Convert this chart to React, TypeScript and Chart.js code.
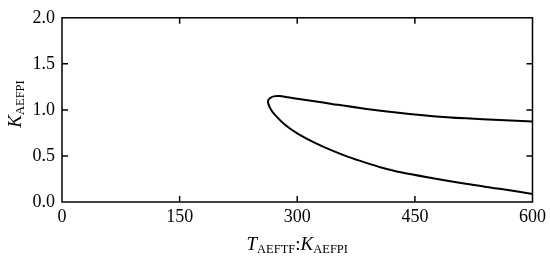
import React, { useEffect, useRef } from "react";
import { Chart, registerables } from "chart.js";

Chart.register(...registerables);

// Curve traced from the upper-right end, around the tip, to the lower-right end
const curveX = [600, 558, 515, 473, 432, 386, 344, 322, 300, 288, 277, 270, 265.5, 262.8, 263.2, 266, 271.3, 284, 301, 322, 344, 365, 386, 407, 432, 473, 515, 558, 600];
const curveY = [0.874, 0.89, 0.908, 0.932, 0.966, 1.013, 1.065, 1.094, 1.12, 1.137, 1.15, 1.147, 1.13, 1.1, 1.065, 1.01, 0.948, 0.842, 0.74, 0.645, 0.56, 0.49, 0.43, 0.375, 0.322, 0.258, 0.197, 0.143, 0.088];

const xTicks = [0, 150, 300, 450, 600];
const yTicks = [0, 0.5, 1.0, 1.5, 2.0];

const SERIF = "'Liberation Serif', 'DejaVu Serif', serif";

const framePlugin = {
  id: "frame",
  afterDraw(chart: any) {
    const { ctx, chartArea: a, scales } = chart;
    const xs = scales.x;
    const ys = scales.y;
    ctx.save();
    ctx.strokeStyle = "#000";
    ctx.lineWidth = 1.5;
    ctx.strokeRect(a.left, a.top, a.right - a.left, a.bottom - a.top);
    const L = 6;
    ctx.beginPath();
    xTicks.slice(1, -1).forEach((v) => {
      const px = xs.getPixelForValue(v);
      ctx.moveTo(px, a.bottom);
      ctx.lineTo(px, a.bottom - L);
      ctx.moveTo(px, a.top);
      ctx.lineTo(px, a.top + L);
    });
    yTicks.slice(1, -1).forEach((v) => {
      const py = ys.getPixelForValue(v);
      ctx.moveTo(a.left, py);
      ctx.lineTo(a.left + L, py);
      ctx.moveTo(a.right, py);
      ctx.lineTo(a.right - L, py);
    });
    ctx.stroke();

    // axis titles with subscripts
    const drawParts = (parts: { t: string; f: string; dy: number }[], cx: number, cy: number) => {
      let w = 0;
      parts.forEach((p) => {
        ctx.font = p.f;
        w += ctx.measureText(p.t).width;
      });
      let x = cx - w / 2;
      ctx.fillStyle = "#000";
      ctx.textBaseline = "alphabetic";
      ctx.textAlign = "left";
      parts.forEach((p) => {
        ctx.font = p.f;
        ctx.fillText(p.t, x, cy + p.dy);
        x += ctx.measureText(p.t).width;
      });
    };
    const big = `italic 19px ${SERIF}`;
    const sub = `12.5px ${SERIF}`;
    const norm = `19px ${SERIF}`;
    drawParts(
      [
        { t: "T", f: big, dy: 0 },
        { t: "AEFTF", f: sub, dy: 3 },
        { t: ":", f: norm, dy: 0 },
        { t: "K", f: big, dy: 0 },
        { t: "AEFPI", f: sub, dy: 3 },
      ],
      (a.left + a.right) / 2,
      250
    );
    ctx.save();
    ctx.translate(21, 104);
    ctx.rotate(-Math.PI / 2);
    drawParts(
      [
        { t: "K", f: big, dy: 0 },
        { t: "AEFPI", f: sub, dy: 3 },
      ],
      0,
      0
    );
    ctx.restore();
    ctx.restore();
  },
};

export default function App() {
  const ref = useRef<HTMLCanvasElement>(null);
  useEffect(() => {
    document.body.style.margin = "0";
    const data = curveX.map((x, i) => ({ x, y: curveY[i] }));
    const chart = new Chart(ref.current!, {
      type: "scatter",
      data: {
        datasets: [
          {
            data,
            showLine: true,
            borderColor: "#000",
            borderWidth: 2,
            pointRadius: 0,
            tension: 0.3,
            fill: false,
          },
        ],
      },
      options: {
        animation: false,
        responsive: false,
        layout: { padding: { left: 0, right: 17, top: 11, bottom: 0 } },
        plugins: { legend: { display: false }, tooltip: { enabled: false } },
        scales: {
          x: {
            type: "linear",
            min: 0,
            max: 600,
            afterFit: (s: any) => {
              s.height = 56;
            },
            afterBuildTicks: (s: any) => {
              s.ticks = xTicks.map((v) => ({ value: v }));
            },
            grid: { display: false, drawTicks: false },
            border: { display: false },
            ticks: {
              color: "#000",
              font: { family: SERIF, size: 18 },
              padding: 4,
              maxRotation: 0,
              callback: (v: any) => String(v),
            },
          },
          y: {
            type: "linear",
            min: 0,
            max: 2,
            afterFit: (s: any) => {
              s.width = 62;
            },
            afterBuildTicks: (s: any) => {
              s.ticks = yTicks.map((v) => ({ value: v }));
            },
            grid: { display: false, drawTicks: false },
            border: { display: false },
            ticks: {
              color: "#000",
              font: { family: SERIF, size: 18 },
              padding: 7,
              callback: (v: any) => Number(v).toFixed(1),
            },
          },
        },
      },
      plugins: [framePlugin],
    });
    return () => chart.destroy();
  }, []);
  return (
    <div style={{ width: 550, height: 258 }}>
      <canvas ref={ref} width={550} height={258} style={{ display: "block" }} />
    </div>
  );
}
